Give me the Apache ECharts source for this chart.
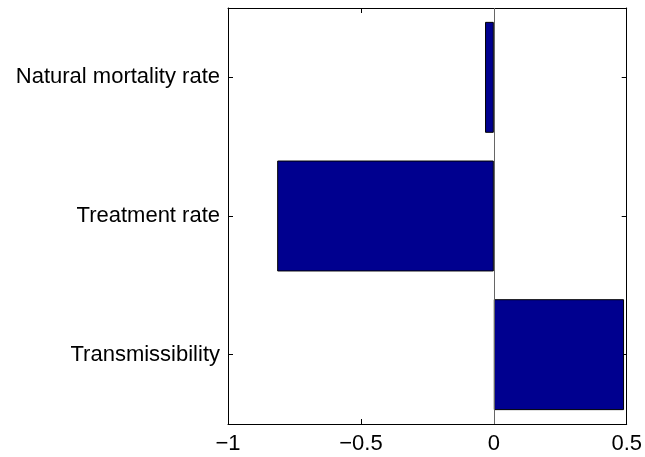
<!DOCTYPE html>
<html>
<head>
<meta charset="utf-8">
<script src="https://cdn.jsdelivr.net/npm/echarts@6/dist/echarts.min.js"></script>
<style>
html,body{margin:0;padding:0;background:#fff;}
#chart{width:645px;height:457px;}
</style>
</head>
<body>
<div id="chart"></div>
<script>
var categories = ['Transmissibility', 'Treatment rate', 'Natural mortality rate'];
var values = [0.49, -0.815, -0.033];
var xTicks = [-1, -0.5, 0, 0.5];

var chart = echarts.init(document.getElementById('chart'), null, {renderer: 'canvas'});
var font = 'Liberation Sans, Arial, Helvetica, sans-serif';
function fmt(v) { return String(v).replace('-', '\u2212'); }
var xBase = {
  type: 'value', min: xTicks[0], max: xTicks[xTicks.length - 1], interval: 0.5,
  splitLine: {show: false},
  axisLine: {show: true, lineStyle: {color: '#000', width: 1}},
  axisTick: {show: true, inside: true, length: 5, lineStyle: {color: '#000'}}
};
var yBase = {
  type: 'category', data: categories,
  axisLine: {show: true, onZero: false, lineStyle: {color: '#000', width: 1}},
  axisTick: {show: true, inside: true, length: 5, alignWithLabel: true, lineStyle: {color: '#000'}},
  splitLine: {show: false}
};
chart.setOption({
  backgroundColor: '#fff',
  animation: false,
  grid: {left: 228, right: 17, top: 8, bottom: 33, containLabel: false},
  xAxis: [
    Object.assign({}, xBase, {position: 'bottom',
      axisLabel: {show: true, color: '#000', fontSize: 22, fontFamily: font, margin: 9, formatter: fmt}}),
    Object.assign({}, xBase, {position: 'top', axisLabel: {show: false}})
  ],
  yAxis: [
    Object.assign({}, yBase, {position: 'left',
      axisLabel: {show: true, color: '#000', fontSize: 22, fontFamily: font, margin: 8}}),
    Object.assign({}, yBase, {position: 'right', axisLabel: {show: false}})
  ],
  series: [{
    type: 'bar', xAxisIndex: 0, yAxisIndex: 0,
    data: values,
    barCategoryGap: '20%',
    itemStyle: {color: '#00008F', borderColor: '#000', borderWidth: 1},
    markLine: {
      silent: true, symbol: 'none', label: {show: false},
      lineStyle: {color: '#666', width: 1, type: 'solid'},
      data: [{xAxis: 0}]
    }
  }]
});
</script>
</body>
</html>
